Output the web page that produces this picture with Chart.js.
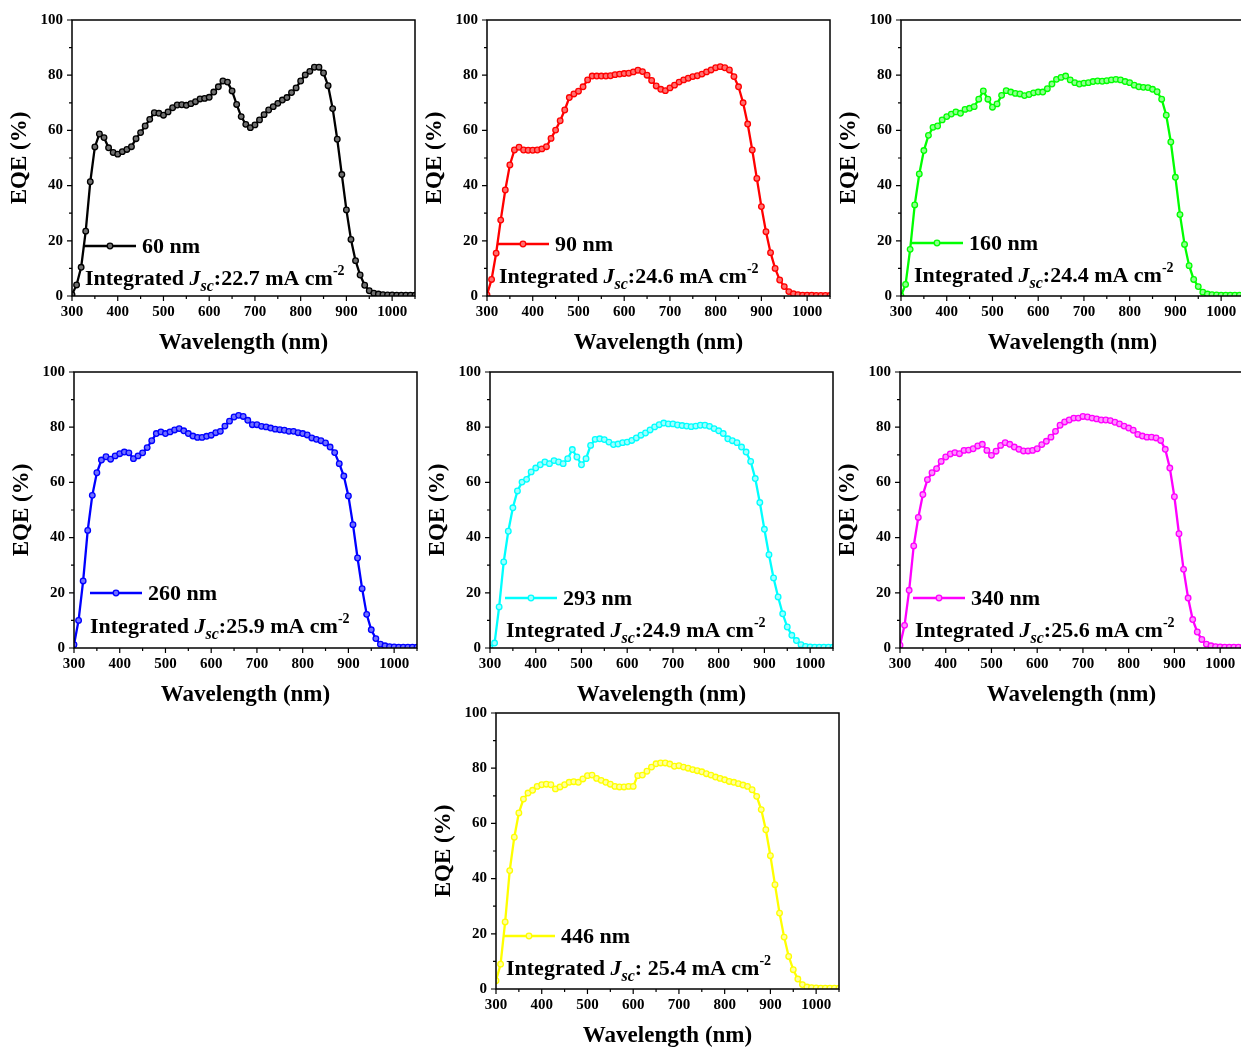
<!DOCTYPE html>
<html>
<head>
<meta charset="utf-8">
<title>EQE spectra</title>
<script src="https://cdn.jsdelivr.net/npm/chart.js@4.4.0/dist/chart.umd.min.js"></script>
<style>
    html, body { margin: 0; padding: 0; background: #fff; width: 1241px; height: 1050px; overflow: hidden; }
    canvas { position: absolute; }
</style>
</head>
<body>
<script>
    /**
     * Wavelength (nm)
     */
    const wavelengths = [300, 310, 320, 330, 340, 350, 360, 370, 380, 390,
        400, 410, 420, 430, 440, 450, 460, 470, 480, 490,
        500, 510, 520, 530, 540, 550, 560, 570, 580, 590,
        600, 610, 620, 630, 640, 650, 660, 670, 680, 690,
        700, 710, 720, 730, 740, 750, 760, 770, 780, 790,
        800, 810, 820, 830, 840, 850, 860, 870, 880, 890,
        900, 910, 920, 930, 940, 950, 960, 970, 980, 990,
        1000, 1010, 1020, 1030, 1040, 1050];

    /**
     * EQE (%) per film thickness
     */
    const eqe60 = [0.5, 4, 10.4, 23.5, 41.4, 54, 58.7, 57.4, 53.7, 52,
        51.4, 52.3, 53.1, 54.1, 57, 59.2, 61.6, 64, 66.4, 66.2,
        65.5, 66.7, 68.2, 69.2, 69.3, 69.1, 69.7, 70.4, 71.4, 71.6,
        72, 73.9, 75.8, 77.9, 77.5, 74.3, 69.4, 65, 62.2, 61,
        62, 63.8, 65.7, 67.4, 68.6, 69.8, 71, 71.9, 73.7, 75.4,
        77.9, 80.1, 81.4, 82.9, 82.9, 80.8, 76.2, 67.9, 56.8, 44,
        31.2, 20.5, 12.8, 7.6, 3.9, 1.9, 1, 0.7, 0.5, 0.4,
        0.4, 0.3, 0.3, 0.3, 0.3, 0.3];

    const eqe90 = [0.4, 6, 15.5, 27.5, 38.4, 47.5, 52.9, 53.9, 52.9, 52.8,
        52.8, 52.9, 53.3, 54.1, 57.1, 60.1, 63.5, 67.4, 71.9, 73.2,
        74.2, 75.8, 78.3, 79.7, 79.7, 79.7, 79.7, 79.8, 80.2, 80.4,
        80.6, 80.7, 81.2, 81.8, 81.3, 80, 78.1, 76.1, 74.9, 74.4,
        75.4, 76.4, 77.5, 78.3, 78.9, 79.5, 79.8, 80.4, 81.2, 81.9,
        82.7, 83.1, 82.7, 81.9, 79.5, 75.8, 70, 62.3, 52.9, 42.6,
        32.4, 23.3, 15.7, 10, 5.8, 3.4, 1.6, 0.8, 0.5, 0.3,
        0.3, 0.3, 0.2, 0.2, 0.2, 0.2];

    const eqe160 = [0, 4.2, 16.9, 33, 44.2, 52.7, 58.2, 61.1, 61.6, 63.8,
        65, 65.9, 66.7, 66.2, 67.6, 68, 68.6, 71.3, 74.3, 71.3,
        68.4, 69.6, 72.7, 74.4, 73.9, 73.4, 73.2, 72.6, 73, 73.6,
        73.9, 73.9, 75.1, 76.8, 78.5, 79.2, 79.7, 78.3, 77.3, 76.8,
        77.1, 77.3, 77.7, 77.9, 77.8, 78, 78.3, 78.5, 78.3, 77.7,
        77.3, 76.4, 75.8, 75.6, 75.5, 74.9, 74, 71.3, 65.5, 55.8,
        43, 29.5, 18.7, 11, 6, 3.4, 1.4, 0.7, 0.5, 0.4,
        0.3, 0.3, 0.3, 0.3, 0.3, 0.3];

    const eqe260 = [1.2, 10, 24.3, 42.6, 55.3, 63.5, 68.1, 69.3, 68.4, 69.6,
        70.4, 71, 70.7, 68.6, 69.6, 70.7, 72.6, 75.1, 77.7, 78.3,
        77.7, 78.3, 79, 79.5, 78.7, 77.7, 76.8, 76.3, 76.3, 76.7,
        77.1, 78, 78.5, 80.4, 82.2, 83.7, 84.3, 83.9, 82.5, 80.9,
        80.9, 80.3, 80.1, 79.7, 79.3, 79.1, 78.9, 78.5, 78.5, 78,
        77.7, 77.2, 76.1, 75.6, 75.1, 74.3, 72.8, 70.8, 66.8, 62.3,
        55.1, 44.7, 32.6, 21.5, 12.2, 6.6, 3.4, 1.4, 0.8, 0.5,
        0.4, 0.3, 0.3, 0.3, 0.3, 0.3];

    const eqe293 = [0, 1.8, 14.9, 31.2, 42.3, 50.8, 56.9, 60.1, 61.1, 63.8,
        65.2, 66.4, 67.4, 66.8, 67.9, 67.4, 66.8, 68.6, 71.9, 69.2,
        66.4, 68.6, 73.4, 75.6, 75.8, 75.5, 74.6, 73.7, 73.9, 74.4,
        74.6, 75.2, 76.1, 77.1, 77.9, 79, 80.1, 80.9, 81.5, 81.2,
        81.2, 80.8, 80.6, 80.4, 80.2, 80.4, 80.7, 80.7, 80.3, 79.5,
        78.7, 77.7, 75.8, 75.1, 74.4, 72.8, 71, 67.6, 61.4, 52.7,
        43, 33.8, 25.4, 18.5, 12.4, 7.6, 4.6, 2.7, 1.2, 0.6,
        0.4, 0.3, 0.3, 0.3, 0.3, 0.3];

    const eqe340 = [1, 8.2, 20.9, 37, 47.3, 55.6, 61, 63.5, 65, 67.6,
        69.2, 70.3, 70.8, 70.4, 71.6, 71.7, 72.2, 73.2, 73.8, 71.6,
        69.8, 71.3, 73.4, 74.4, 73.8, 72.8, 72, 71.4, 71.4, 71.6,
        72.2, 73.7, 74.9, 76.4, 78.5, 80.7, 81.9, 82.6, 83.3, 83.3,
        83.9, 83.7, 83.3, 83, 82.6, 82.6, 82.4, 81.8, 81.2, 80.4,
        79.7, 78.9, 77.4, 76.8, 76.4, 76.4, 76.1, 75.2, 72, 65.2,
        54.8, 41.4, 28.5, 18.1, 10.3, 5.8, 3.1, 1.4, 0.8, 0.5,
        0.4, 0.3, 0.3, 0.3, 0.3, 0.3];

    const eqe446 = [3, 9, 24.3, 42.9, 55, 63.8, 68.8, 71, 72, 73.4,
        74, 74.2, 74, 72.5, 73.2, 74, 74.9, 75.1, 74.9, 76.1,
        77.3, 77.5, 76.3, 75.6, 74.9, 74.2, 73.4, 73.2, 73.2, 73.4,
        73.4, 77.3, 77.5, 78.9, 80.4, 81.6, 81.9, 81.9, 81.5, 80.7,
        80.9, 80.4, 80, 79.5, 79.1, 78.7, 78, 77.5, 76.8, 76.3,
        75.8, 75.2, 74.9, 74.4, 73.9, 73.4, 72.2, 69.8, 65, 57.7,
        48.3, 37.8, 27.5, 18.8, 11.8, 7, 3.6, 1.6, 0.7, 0.5,
        0.4, 0.3, 0.3, 0.3, 0.3, 0.3];

    /**
     * Labels
     */
    const thicknessLabels = ['60 nm', '90 nm', '160 nm', '260 nm', '293 nm', '340 nm', '446 nm'];
    const jscValues = ['22.7', '24.6', '24.4', '25.9', '24.9', '25.6', '25.4'];

    /**
     * Ticks
     */
    const xTicks = [300, 400, 500, 600, 700, 800, 900, 1000];
    const xMinorTicks = [350, 450, 550, 650, 750, 850, 950, 1050];
    const yTicks = [0, 20, 40, 60, 80, 100];
    const yMinorTicks = [10, 30, 50, 70, 90];

    /**
     * Fonts
     */
    const serif = "'Liberation Serif', 'Times New Roman', serif";

    /**
     * Frame, ticks, axis titles, legend and J_sc note
     */
    const panelDecor = {
        id: 'panelDecor',

        afterDraw(chart, args, opts) {
            const ctx = chart.ctx;
            const a = chart.chartArea;
            const xs = chart.scales.x;
            const ys = chart.scales.y;

            ctx.save();

            // frame
            ctx.strokeStyle = '#000';
            ctx.lineWidth = 1.5;
            ctx.strokeRect(a.left, a.top, a.right - a.left, a.bottom - a.top);

            // outward ticks
            ctx.lineWidth = 1.2;
            ctx.beginPath();
            xTicks.forEach(v => { const p = xs.getPixelForValue(v); ctx.moveTo(p, a.bottom); ctx.lineTo(p, a.bottom + 5); });
            xMinorTicks.forEach(v => { const p = xs.getPixelForValue(v); ctx.moveTo(p, a.bottom); ctx.lineTo(p, a.bottom + 3); });
            yTicks.forEach(v => { const p = ys.getPixelForValue(v); ctx.moveTo(a.left, p); ctx.lineTo(a.left - 5, p); });
            yMinorTicks.forEach(v => { const p = ys.getPixelForValue(v); ctx.moveTo(a.left, p); ctx.lineTo(a.left - 3, p); });
            ctx.stroke();

            // axis titles
            ctx.fillStyle = '#000';
            ctx.font = 'bold 23px ' + serif;
            ctx.textAlign = 'center';
            ctx.textBaseline = 'middle';
            ctx.fillText('Wavelength (nm)', (a.left + a.right) / 2, a.bottom + 47);

            ctx.save();
            ctx.translate(a.left - 52, (a.top + a.bottom) / 2);
            ctx.rotate(-Math.PI / 2);
            ctx.fillText('EQE (%)', 0, 0);
            ctx.restore();

            // legend entry
            const lx = a.left + opts.legend[0];
            const ly = a.bottom + opts.legend[1];
            ctx.strokeStyle = opts.color;
            ctx.lineWidth = 2.5;
            ctx.beginPath();
            ctx.moveTo(lx, ly);
            ctx.lineTo(lx + 52, ly);
            ctx.stroke();
            ctx.beginPath();
            ctx.arc(lx + 26, ly, 2.8, 0, Math.PI * 2);
            ctx.fillStyle = opts.fill;
            ctx.fill();
            ctx.lineWidth = 1.3;
            ctx.stroke();

            ctx.fillStyle = '#000';
            ctx.textAlign = 'left';
            ctx.textBaseline = 'alphabetic';
            ctx.font = 'bold 22px ' + serif;
            ctx.fillText(opts.label, lx + 58, ly + 7);

            // integrated J_sc note
            const parts = [
                { text: 'Integrated ', font: 'bold 22px ', dy: 0 },
                { text: 'J', font: 'italic bold 22px ', dy: 0 },
                { text: 'sc', font: 'italic bold 16px ', dy: 6 },
                { text: opts.sep + opts.jsc + ' mA cm', font: 'bold 22px ', dy: 0 },
                { text: '-2', font: 'bold 14px ', dy: -10 }
            ];
            let nx = a.left + opts.note[0];
            const ny = a.bottom + opts.note[1] + 7;
            parts.forEach(p => {
                ctx.font = p.font + serif;
                ctx.fillText(p.text, nx, ny + p.dy);
                nx += ctx.measureText(p.text).width;
            });

            ctx.restore();
        }
    };

    /**
     * Panels
     */
    const panels = [
        { data: eqe60,  color: '#000000', fill: '#707070', left: 72,  top: 20,  legend: [12, -50], note: [13, -18], sep: ':' },
        { data: eqe90,  color: '#ff0000', fill: '#ff7070', left: 487, top: 20,  legend: [10, -52], note: [12, -20], sep: ':' },
        { data: eqe160, color: '#00ff00', fill: '#90ff90', left: 901, top: 20,  legend: [10, -53], note: [13, -21], sep: ':' },
        { data: eqe260, color: '#0000ff', fill: '#7070ff', left: 74,  top: 372, legend: [16, -55], note: [16, -22], sep: ':' },
        { data: eqe293, color: '#00ffff', fill: '#a0ffff', left: 490, top: 372, legend: [15, -50], note: [16, -18], sep: ':' },
        { data: eqe340, color: '#ff00ff', fill: '#ff90ff', left: 900, top: 372, legend: [13, -50], note: [15, -18], sep: ':' },
        { data: eqe446, color: '#ffff00', fill: '#ffffa0', left: 496, top: 713, legend: [7, -53],  note: [10, -21], sep: ': ' }
    ];

    const plotWidth = 343;
    const plotHeight = 276;

    panels.forEach((panel, i) => {
        const canvas = document.createElement('canvas');
        canvas.width = 72 + plotWidth + 10;
        canvas.height = 10 + plotHeight + 70;
        canvas.style.left = (panel.left - 72) + 'px';
        canvas.style.top = (panel.top - 10) + 'px';
        document.body.appendChild(canvas);

        new Chart(canvas, {
            type: 'line',
            data: {
                datasets: [{
                    label: thicknessLabels[i],
                    data: wavelengths.map((w, k) => ({ x: w, y: panel.data[k] })),
                    borderColor: panel.color,
                    borderWidth: 2.3,
                    pointRadius: 2.8,
                    pointBorderWidth: 1.3,
                    pointBorderColor: panel.color,
                    pointBackgroundColor: panel.fill,
                    tension: 0
                }]
            },
            options: {
                responsive: false,
                animation: false,
                devicePixelRatio: 1,
                layout: { padding: { left: 0, top: 10, right: 10, bottom: 0 } },
                plugins: {
                    legend: { display: false },
                    tooltip: { enabled: false },
                    panelDecor: {
                        color: panel.color,
                        fill: panel.fill,
                        label: thicknessLabels[i],
                        jsc: jscValues[i],
                        sep: panel.sep,
                        legend: panel.legend,
                        note: panel.note
                    }
                },
                scales: {
                    x: {
                        type: 'linear',
                        min: 300,
                        max: 1050,
                        afterBuildTicks: scale => { scale.ticks = xTicks.map(v => ({ value: v })); },
                        afterFit: scale => { scale.height = 70; scale.paddingLeft = 0; scale.paddingRight = 0; },
                        grid: { display: false, drawTicks: false },
                        border: { display: false },
                        ticks: { padding: 7, color: '#000', callback: v => String(v), font: { family: serif, size: 15, weight: 'bold' } }
                    },
                    y: {
                        min: 0,
                        max: 100,
                        afterBuildTicks: scale => { scale.ticks = yTicks.map(v => ({ value: v })); },
                        afterFit: scale => { scale.width = 72; scale.paddingTop = 0; scale.paddingBottom = 0; },
                        grid: { display: false, drawTicks: false },
                        border: { display: false },
                        ticks: { padding: 9, color: '#000', callback: v => String(v), font: { family: serif, size: 15, weight: 'bold' } }
                    }
                }
            },
            plugins: [panelDecor]
        });
    });
</script>
</body>
</html>
